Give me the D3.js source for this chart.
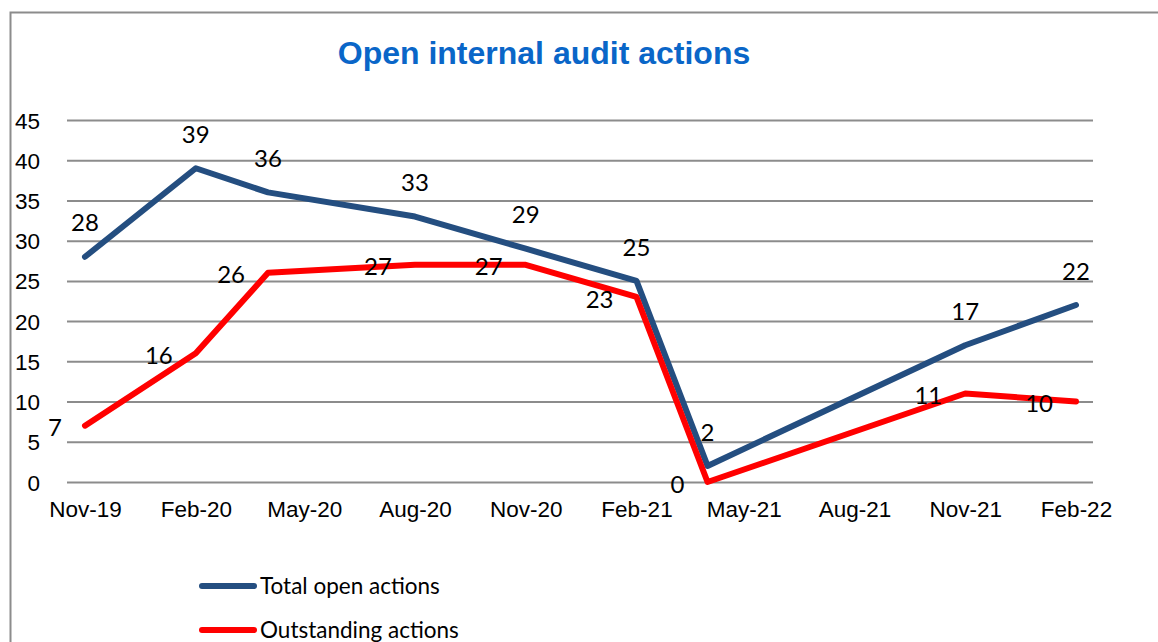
<!DOCTYPE html>
<html>
<head>
<meta charset="utf-8">
<script src="https://cdn.jsdelivr.net/npm/d3@7"></script>
<style>
  body { margin: 0; background: #fff; }
  svg { display: block; }
</style>
</head>
<body>
<div id="chart"></div>
<script>
const months = ["2019-11", "2020-02", "2020-04", "2020-08", "2020-11", "2021-02", "2021-04", "2021-11", "2022-02"];
const totalOpen = [28, 39, 36, 33, 29, 25, 2, 17, 22];
const outstanding = [7, 16, 26, 27, 27, 23, 0, 11, 10];
const tickMonths = ["2019-11", "2020-02", "2020-05", "2020-08", "2020-11", "2021-02", "2021-05", "2021-08", "2021-11", "2022-02"];
const yTicks = [0, 5, 10, 15, 20, 25, 30, 35, 40, 45];

const parseMonth = d3.timeParse("%Y-%m");
const fmtMonth = d3.timeFormat("%b-%y");

const width = 1158, height = 642;
const plotLeft = 67, plotRight = 1093;

const series = [
    { name: "Total open actions", color: "#244e80", values: totalOpen, labelPos: "above" },
    { name: "Outstanding actions", color: "#ff0000", values: outstanding, labelPos: "left" },
];

const svg = d3.select("#chart").append("svg")
    .attr("width", width)
    .attr("height", height);

// outer chart border (only top and left visible in the crop)
svg.append("path")
    .attr("d", `M10.5,${height}V12.5H${width}`)
    .attr("fill", "none")
    .attr("stroke", "#8c8c8c")
    .attr("stroke-width", 2);

svg.append("text")
    .attr("x", 544)
    .attr("y", 64)
    .attr("text-anchor", "middle")
    .attr("font-family", "Liberation Sans, Arial, sans-serif")
    .attr("font-weight", 700)
    .attr("font-size", 32)
    .attr("fill", "#0a66c8")
    .text("Open internal audit actions");

const x = d3.scaleTime()
    .domain([parseMonth(tickMonths[0]), parseMonth(tickMonths[tickMonths.length - 1])])
    .range([85, 1076]);

const y = d3.scaleLinear()
    .domain([0, 45])
    .range([482, 120]);

// y axis + gridlines
const yAxis = svg.append("g")
    .attr("transform", `translate(${plotLeft},0)`)
    .call(d3.axisLeft(y).tickValues(yTicks).tickSize(-(plotRight - plotLeft)).tickPadding(27));
yAxis.select(".domain").remove();
yAxis.selectAll(".tick line").attr("stroke", "#8c8c8c").attr("stroke-width", 2);
yAxis.selectAll(".tick text")
    .attr("font-family", "Liberation Sans, Arial, sans-serif")
    .attr("font-size", 22.5)
    .attr("fill", "#000")
    .attr("dy", "0.36em");

// x axis labels
const xAxis = svg.append("g")
    .attr("transform", `translate(0,${y(0)})`)
    .call(d3.axisBottom(x).tickValues(tickMonths.map(parseMonth)).tickFormat(fmtMonth).tickSize(0).tickPadding(19));
xAxis.select(".domain").remove();
xAxis.selectAll(".tick text")
    .attr("font-family", "Liberation Sans, Arial, sans-serif")
    .attr("font-size", 22.5)
    .attr("fill", "#000");

const line = d3.line()
    .x((d) => x(d.date))
    .y((d) => y(d.value));

series.forEach((s) => {
    const pts = s.values.map((v, i) => ({ date: parseMonth(months[i]), value: v }));

    svg.append("path")
        .datum(pts)
        .attr("d", line)
        .attr("fill", "none")
        .attr("stroke", s.color)
        .attr("stroke-width", 6)
        .attr("stroke-linejoin", "round")
        .attr("stroke-linecap", "round");

    svg.append("g").selectAll("text")
        .data(pts)
        .join("text")
        .attr("x", (d) => s.labelPos === "above" ? x(d.date) : x(d.date) - 23)
        .attr("y", (d) => s.labelPos === "above" ? y(d.value) - 34 : y(d.value) + 2)
        .attr("dy", "0.36em")
        .attr("text-anchor", s.labelPos === "above" ? "middle" : "end")
        .attr("font-family", "Lato, sans-serif")
        .attr("font-size", 24)
        .attr("fill", "#000")
        .text((d) => d.value);
});

// legend
const legend = svg.append("g");
const legendRows = legend.selectAll("g")
    .data(series)
    .join("g")
    .attr("transform", (d, i) => `translate(200,${586 + i * 44})`);
legendRows.append("line")
    .attr("x1", 2).attr("x2", 54)
    .attr("stroke", (d) => d.color)
    .attr("stroke-width", 6)
    .attr("stroke-linecap", "round");
legendRows.append("text")
    .attr("x", 60)
    .attr("dy", "0.36em")
    .attr("font-family", "Lato, sans-serif")
    .attr("font-size", 22.5)
    .attr("fill", "#000")
    .text((d) => d.name);
</script>
</body>
</html>
